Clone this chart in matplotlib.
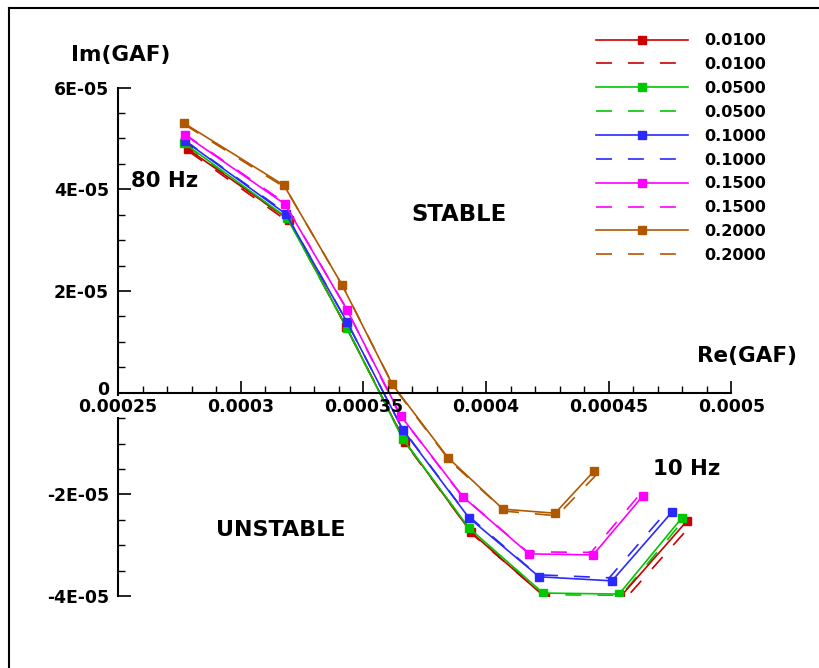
import matplotlib
matplotlib.use("Agg")
from matplotlib import pyplot as plt
from matplotlib.lines import Line2D
from matplotlib.ticker import MultipleLocator
from matplotlib.transforms import ScaledTranslation

plt.rcParams['font.family'] = ['DejaVu Sans']
plt.rcParams['font.weight'] = 'bold'
plt.rcParams['lines.scale_dashes'] = False

# damping values (legend labels)
labels = ['0.0100', '0.0500', '0.1000', '0.1500', '0.2000']
colors = ['#cc0000', '#00c800', '#2a2aff', '#ff00ff', '#b05800']

# solid curves (with markers): Re(GAF), Im(GAF), 80 Hz -> 10 Hz
re_010 = [0.0002785, 0.0003197, 0.0003429, 0.0003670, 0.0003938, 0.0004240, 0.0004546, 0.0004819]
im_010 = [4.79e-5, 3.40e-5, 1.30e-5, -0.97e-5, -2.74e-5, -4.02e-5, -4.02e-5, -2.52e-5]
re_050 = [0.0002769, 0.0003189, 0.0003433, 0.0003661, 0.0003930, 0.0004232, 0.0004542, 0.0004798]
im_050 = [4.91e-5, 3.44e-5, 1.27e-5, -0.91e-5, -2.66e-5, -3.94e-5, -3.96e-5, -2.46e-5]
re_100 = [0.0002773, 0.0003185, 0.0003433, 0.0003661, 0.0003930, 0.0004216, 0.0004513, 0.0004757]
im_100 = [4.95e-5, 3.51e-5, 1.39e-5, -0.73e-5, -2.46e-5, -3.62e-5, -3.70e-5, -2.35e-5]
re_150 = [0.0002773, 0.0003180, 0.0003433, 0.0003653, 0.0003906, 0.0004175, 0.0004436, 0.0004639]
im_150 = [5.07e-5, 3.71e-5, 1.63e-5, -0.46e-5, -2.05e-5, -3.17e-5, -3.19e-5, -2.03e-5]
re_200 = [0.0002769, 0.0003176, 0.0003413, 0.0003617, 0.0003845, 0.0004069, 0.0004281, 0.0004440]
im_200 = [5.30e-5, 4.08e-5, 2.12e-5, 0.17e-5, -1.28e-5, -2.29e-5, -2.37e-5, -1.54e-5]

# dashed curves (no markers)
re_010d = [0.0002790, 0.0003203, 0.0003438, 0.0003678, 0.0003948, 0.0004252, 0.0004562, 0.0004836]
im_010d = [4.74e-5, 3.33e-5, 1.22e-5, -1.04e-5, -2.80e-5, -4.06e-5, -4.08e-5, -2.60e-5]
re_050d = [0.0002775, 0.0003195, 0.0003438, 0.0003666, 0.0003936, 0.0004238, 0.0004550, 0.0004806]
im_050d = [4.87e-5, 3.39e-5, 1.22e-5, -0.95e-5, -2.70e-5, -3.97e-5, -3.99e-5, -2.50e-5]
re_100d = [0.0002770, 0.0003180, 0.0003428, 0.0003655, 0.0003922, 0.0004208, 0.0004502, 0.0004742]
im_100d = [4.97e-5, 3.55e-5, 1.44e-5, -0.68e-5, -2.40e-5, -3.58e-5, -3.64e-5, -2.30e-5]
re_150d = [0.0002770, 0.0003176, 0.0003428, 0.0003646, 0.0003898, 0.0004168, 0.0004428, 0.0004628]
im_150d = [5.09e-5, 3.75e-5, 1.68e-5, -0.42e-5, -2.01e-5, -3.13e-5, -3.14e-5, -1.99e-5]
re_200d = [0.0002772, 0.0003182, 0.0003421, 0.0003625, 0.0003852, 0.0004077, 0.0004289, 0.0004452]
im_200d = [5.27e-5, 4.03e-5, 2.05e-5, 0.10e-5, -1.34e-5, -2.33e-5, -2.42e-5, -1.60e-5]

xticks = [0.00025, 0.0003, 0.00035, 0.0004, 0.00045, 0.0005]
xticklabels = ['0.00025', '0.0003', '0.00035', '0.0004', '0.00045', '0.0005']
yticks = [-4e-5, -2e-5, 0, 2e-5, 4e-5, 6e-5]
yticklabels = ['-4E-05', '-2E-05', '0', '2E-05', '4E-05', '6E-05']

W, H = 820, 668
fig = plt.figure(figsize=(W / 100, H / 100), dpi=100)
ax = fig.add_axes([118 / W, 1 - 596.1 / H, 613.5 / W, 508.5 / H])

solid = [(re_010, im_010), (re_050, im_050), (re_100, im_100), (re_150, im_150), (re_200, im_200)]
dashed = [(re_010d, im_010d), (re_050d, im_050d), (re_100d, im_100d), (re_150d, im_150d), (re_200d, im_200d)]

dash = (0, (11.5, 11.5))
handles = []
for (xs, ys), (xd, yd), c, lab in zip(solid, dashed, colors, labels):
    ax.plot(xd, yd, color=c, lw=1.2, linestyle=dash, zorder=2)
    ax.plot(xs, ys, color=c, lw=1.2, marker='s', ms=5.6, zorder=2.1)
    handles.append(Line2D([], [], color=c, lw=1.2, marker='s', ms=5.6, label=lab))
    handles.append(Line2D([], [], color=c, lw=1.2, linestyle=dash, label=lab))

ax.set_xlim(0.00025, 0.0005)
ax.set_ylim(-4e-5, 6e-5)
ax.set_xticks(xticks)
ax.set_xticklabels(xticklabels)
ax.set_yticks(yticks)
ax.set_yticklabels(yticklabels)
ax.xaxis.set_minor_locator(MultipleLocator(0.00001))
ax.yaxis.set_minor_locator(MultipleLocator(5e-6))

ax.spines['top'].set_visible(False)
ax.spines['right'].set_visible(False)
ax.spines['bottom'].set_position(('data', 0))
for s in ['left', 'bottom']:
    ax.spines[s].set_linewidth(1.5)
ax.spines['left'].set_zorder(1)
ax.xaxis.set_zorder(3)

ax.tick_params(which='major', direction='in', length=9, width=1.2, labelsize=12.4)
ax.tick_params(which='minor', direction='in', length=5, width=1.0)
ax.tick_params(axis='x', pad=3.5)
ax.tick_params(axis='y', pad=6.5)
ax.get_xticklabels()[0].set_bbox(dict(facecolor='white', edgecolor='none', pad=1))
# lift the "0" label a little so it sits above 0.00025
zero_lbl = ax.get_yticklabels()[2]
zero_lbl.set_transform(zero_lbl.get_transform() + ScaledTranslation(0, 5 / 100, fig.dpi_scale_trans))

fig.legend(handles=handles, loc='upper left', bbox_to_anchor=(596 / W, 1 - 33.2 / H),
           frameon=False, fontsize=11.6, handlelength=5.7, handletextpad=1.0,
           labelspacing=0.55, borderpad=0, borderaxespad=0, numpoints=1)

def ftext(x, y, s, size):
    fig.text(x / W, 1 - y / H, s, ha='center', va='baseline', fontsize=size, fontweight='bold')

ftext(120.5, 60.8, 'Im(GAF)', 15.5)
ftext(747.5, 362.3, 'Re(GAF)', 15.5)
ftext(164.5, 186.8, '80 Hz', 15.3)
ftext(686.5, 474.8, '10 Hz', 15.3)
ftext(459.3, 221.3, 'STABLE', 16.4)
ftext(281, 535.6, 'UNSTABLE', 16.0)

# frame
fig.add_artist(Line2D([9.4 / W, 9.4 / W], [0, 1 - 7.7 / H], color='black', lw=1.5))
fig.add_artist(Line2D([9.4 / W, 1], [1 - 7.7 / H, 1 - 7.7 / H], color='black', lw=1.5))

fig.savefig('out.png', dpi=100)
